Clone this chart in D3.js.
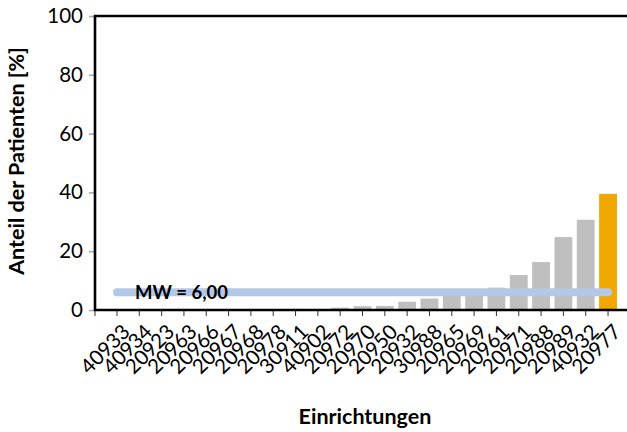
<!DOCTYPE html>
<html>
<head>
<meta charset="utf-8">
<script src="https://cdn.jsdelivr.net/npm/d3@7"></script>
<style>
  html, body { margin: 0; padding: 0; background: #fff; }
  svg { display: block; }
  text { font-family: Lato, "Open Sans", sans-serif; fill: #000; }
</style>
</head>
<body>
<svg id="chart" width="627" height="432"></svg>
<script>
const categories = ["40933","40934","20923","20963","20966","20967","20968","20978","30911","40902","20972","20970","20950","20932","30988","20965","20969","20961","20971","20988","20989","40932","20977"];
const values = [0,0,0,0,0,0,0,0,0,0,0.8,1.3,1.4,2.8,3.9,5.2,5.6,7.6,11.9,16.3,24.8,30.7,39.5];
const highlight = ["20977"];
const meanValue = [6.00];
const meanLabel = ["MW = 6,00"];
const yTicks = [0,20,40,60,80,100];
const yTitle = "Anteil der Patienten [%]";
const xTitle = "Einrichtungen";

(function () {
const svg = d3.select("#chart");
const W = 627, H = 432;
const pLeft = 95, pTop = 16, pBottom = 310;

const y = d3.scaleLinear().domain([0,100]).range([pBottom, pTop]);
const x = d3.scaleBand().domain(categories).range([105.8, 619.2]).paddingInner(0.2).paddingOuter(0.1);
const cx = c => x(c) + x.bandwidth()/2;

// bars
svg.append("g").selectAll("rect").data(categories).join("rect")
  .attr("x", c => x(c))
  .attr("width", x.bandwidth())
  .attr("y", (c,i) => y(values[i]))
  .attr("height", (c,i) => y(0) - y(values[i]))
  .attr("fill", c => highlight.includes(c) ? "#f0a800" : "#bfbfbf");

// mean line
svg.append("line")
  .attr("x1", cx(categories[0])).attr("x2", cx(categories[categories.length-1]))
  .attr("y1", y(meanValue[0])).attr("y2", y(meanValue[0]))
  .attr("stroke", "#b4c7e7").attr("stroke-width", 8).attr("stroke-linecap", "round");

svg.append("text")
  .attr("x", 135).attr("y", y(meanValue[0]) + 6.5)
  .attr("font-size", 18.5).attr("font-weight", "bold")
  .text(meanLabel[0]);

// y axis
const yAxis = svg.append("g").attr("transform", `translate(${pLeft},0)`)
  .call(d3.axisLeft(y).tickValues(yTicks).tickSize(6).tickPadding(6));
yAxis.select(".domain").remove();
yAxis.selectAll(".tick line").attr("stroke", "#a6a6a6").attr("stroke-width", 1.5);
yAxis.selectAll(".tick text").attr("font-size", 20.5).attr("font-family", "Lato, sans-serif").attr("fill", "#000");

// x axis
const xAxis = svg.append("g").attr("transform", `translate(0,${pBottom})`)
  .call(d3.axisBottom(x).tickSize(6).tickPadding(4));
xAxis.select(".domain").remove();
xAxis.selectAll(".tick line").attr("stroke", "#333").attr("stroke-width", 1);
xAxis.selectAll(".tick text")
  .attr("font-size", 20.5).attr("font-family", "Lato, sans-serif").attr("fill", "#000")
  .attr("text-anchor", "end")
  .attr("transform", "translate(4,13) rotate(-45)")
  .attr("dy", "0.7em").attr("y", 0).attr("x", 0);
svg.append("line").attr("x1", pLeft).attr("x2", pLeft).attr("y1", pBottom).attr("y2", pBottom+6)
  .attr("stroke", "#333");

// frame
svg.append("path")
  .attr("d", `M${W+5},${pTop}H${pLeft}V${pBottom}H${W+5}`)
  .attr("fill", "none").attr("stroke", "#000").attr("stroke-width", 2.6);

// titles
svg.append("text")
  .attr("transform", `translate(24,161) rotate(-90)`)
  .attr("text-anchor", "middle").attr("font-size", 21.5).attr("font-weight", "bold")
  .text(yTitle);
svg.append("text")
  .attr("x", 365).attr("y", 424)
  .attr("text-anchor", "middle").attr("font-size", 21.5).attr("font-weight", "bold")
  .text(xTitle);
})();
</script>
</body>
</html>
